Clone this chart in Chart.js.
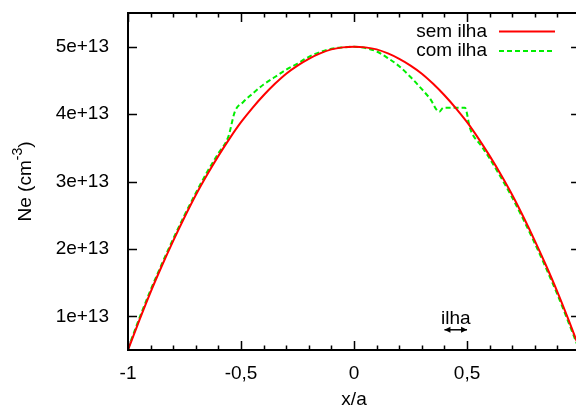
<!DOCTYPE html>
<html>
<head>
<meta charset="utf-8">
<script src="https://cdn.jsdelivr.net/npm/chart.js@4/dist/chart.umd.min.js"></script>
<style>
  html, body { margin: 0; padding: 0; background: #fff; }
  #grafico { display: block; }
</style>
</head>
<body>
<canvas id="grafico" width="576" height="410"></canvas>
<script>
// Valores em unidades de 1e13 cm^-3
const xSemIlha = [-1, -0.95, -0.9, -0.85, -0.8, -0.75, -0.7, -0.65, -0.6, -0.55, -0.5, -0.45, -0.4, -0.35, -0.3, -0.25, -0.2, -0.15, -0.1, -0.05,
                  0, 0.05, 0.1, 0.15, 0.2, 0.25, 0.3, 0.35, 0.4, 0.45, 0.5, 0.55, 0.6, 0.65, 0.7, 0.75, 0.8, 0.85, 0.9, 0.95, 1];
const neSemIlha = [0.50, 0.94, 1.36, 1.75, 2.12, 2.47, 2.80, 3.10, 3.38, 3.64, 3.88, 4.09, 4.28, 4.45, 4.60, 4.72, 4.82, 4.90, 4.96, 4.99,
                   5.00, 4.99, 4.96, 4.90, 4.82, 4.72, 4.60, 4.45, 4.28, 4.09, 3.88, 3.64, 3.38, 3.10, 2.80, 2.47, 2.12, 1.75, 1.36, 0.94, 0.50];

const xComIlha = [-1, -0.95, -0.9, -0.85, -0.8, -0.75, -0.7, -0.65, -0.6, -0.556, -0.527, -0.49, -0.45, -0.4, -0.35, -0.3, -0.25, -0.2, -0.15, -0.1, -0.05,
                  0, 0.05, 0.1, 0.15, 0.2, 0.25, 0.3, 0.336, 0.377, 0.395, 0.491, 0.513, 0.565, 0.6, 0.65, 0.7, 0.75, 0.8, 0.85, 0.9, 0.95, 1];
const neComIlha = [0.52, 0.97, 1.39, 1.78, 2.15, 2.50, 2.83, 3.14, 3.42, 3.665, 4.04, 4.18, 4.30, 4.44, 4.55, 4.66, 4.75, 4.85, 4.92, 4.97, 4.99,
                   5.00, 4.98, 4.93, 4.83, 4.71, 4.55, 4.37, 4.23, 4.035, 4.095, 4.095, 3.79, 3.52, 3.34, 3.06, 2.76, 2.43, 2.08, 1.71, 1.32, 0.90, 0.47];

const xTicks = [-1, -0.5, 0, 0.5];
const xTickLabels = ['-1', '-0,5', '0', '0,5'];
const xMinorStep = 0.1;
const yTicks = [1, 2, 3, 4, 5];
const yTickLabels = ['1e+13', '2e+13', '3e+13', '4e+13', '5e+13'];

// anotação da ilha
const ilhaInicio = 0.4;
const ilhaFim = 0.5;
const ilhaTexto = 'ilha';

const fonte = "'Liberation Sans', Arial, sans-serif";
const tamFonte = 19;

function pontos(xs, ys) {
    return xs.map((x, i) => ({ x: x, y: ys[i] }));
}

// Eixos desenhados como no gnuplot: moldura e marcas para dentro
const moldura = {
    id: 'moldura',
    afterDatasetsDraw(chart) {
        const ctx = chart.ctx;
        const a = chart.chartArea;
        const sx = chart.scales.x;
        const sy = chart.scales.y;
        const direita = sx.getPixelForValue(1);
        ctx.save();
        ctx.strokeStyle = '#000';
        ctx.lineWidth = 2;
        ctx.beginPath();
        ctx.moveTo(direita, a.top);
        ctx.lineTo(a.left, a.top);
        ctx.lineTo(a.left, a.bottom);
        ctx.lineTo(direita, a.bottom);
        ctx.stroke();

        ctx.lineWidth = 1.5;
        ctx.beginPath();
        for (let v = -1; v <= 1.0001; v += xMinorStep) {
            const val = Math.round(v * 10) / 10;
            const px = Math.round(sx.getPixelForValue(val)) + 0.5;
            const major = xTicks.includes(val) || val === 1;
            const len = major ? 9 : 4.5;
            ctx.moveTo(px, a.bottom);
            ctx.lineTo(px, a.bottom - len);
            ctx.moveTo(px, a.top);
            ctx.lineTo(px, a.top + len);
        }
        yTicks.forEach(v => {
            const py = Math.round(sy.getPixelForValue(v)) + 0.5;
            ctx.moveTo(a.left, py);
            ctx.lineTo(a.left + 9, py);
            ctx.moveTo(direita, py);
            ctx.lineTo(direita - 9, py);
        });
        ctx.stroke();

        // legenda
        ctx.font = tamFonte + 'px ' + fonte;
        ctx.textAlign = 'right';
        ctx.textBaseline = 'middle';
        ctx.fillStyle = '#000';
        chart.data.datasets.forEach((ds, i) => {
            const y = 31.5 + i * 19.5;
            ctx.fillText(ds.label, 487, y);
            ctx.strokeStyle = ds.borderColor;
            ctx.lineWidth = ds.borderWidth;
            ctx.setLineDash(ds.borderDash || []);
            ctx.beginPath();
            ctx.moveTo(499, y);
            ctx.lineTo(555, y);
            ctx.stroke();
        });
        ctx.setLineDash([]);

        // anotação "ilha"
        const x1 = sx.getPixelForValue(ilhaInicio);
        const x2 = sx.getPixelForValue(ilhaFim);
        const ya = sy.getPixelForValue(0.8);
        ctx.textAlign = 'center';
        ctx.textBaseline = 'alphabetic';
        ctx.fillText(ilhaTexto, (x1 + x2) / 2, ya - 6);
        ctx.strokeStyle = '#000';
        ctx.lineWidth = 1.5;
        ctx.beginPath();
        ctx.moveTo(x1, ya);
        ctx.lineTo(x2, ya);
        ctx.stroke();
        ctx.fillStyle = '#000';
        [[x1, 1], [x2, -1]].forEach(([px, d]) => {
            ctx.beginPath();
            ctx.moveTo(px, ya);
            ctx.lineTo(px + d * 6, ya - 3);
            ctx.lineTo(px + d * 6, ya + 3);
            ctx.closePath();
            ctx.fill();
        });

        // títulos dos eixos
        ctx.textAlign = 'center';
        ctx.textBaseline = 'middle';
        ctx.font = tamFonte + 'px ' + fonte;
        ctx.fillText('x/a', (a.left + direita) / 2, 400);

        ctx.translate(26, (a.top + a.bottom) / 2);
        ctx.rotate(-Math.PI / 2);
        ctx.textAlign = 'left';
        const t1 = 'Ne (cm';
        const t2 = '-3';
        const t3 = ')';
        const fonteMenor = '14px ' + fonte;
        ctx.font = tamFonte + 'px ' + fonte;
        const w1 = ctx.measureText(t1).width;
        const w3 = ctx.measureText(t3).width;
        ctx.font = fonteMenor;
        const w2 = ctx.measureText(t2).width;
        const x0 = -(w1 + w2 + w3) / 2;
        ctx.font = tamFonte + 'px ' + fonte;
        ctx.fillText(t1, x0, 0);
        ctx.font = fonteMenor;
        ctx.fillText(t2, x0 + w1, -8);
        ctx.font = tamFonte + 'px ' + fonte;
        ctx.fillText(t3, x0 + w1 + w2, 0);
        ctx.restore();
    }
};

const ctx = document.getElementById('grafico').getContext('2d');

new Chart(ctx, {
    type: 'line',
    data: {
        datasets: [{
            label: 'sem ilha',
            data: pontos(xSemIlha, neSemIlha),
            borderColor: '#ff0000',
            borderWidth: 2,
            pointRadius: 0,
            cubicInterpolationMode: 'monotone',
            fill: false
        }, {
            label: 'com ilha',
            data: pontos(xComIlha, neComIlha),
            borderColor: '#00ee00',
            borderWidth: 2,
            borderDash: [5, 3],
            pointRadius: 0,
            cubicInterpolationMode: 'monotone',
            fill: false
        }]
    },
    options: {
        responsive: false,
        animation: false,
        events: [],
        layout: { padding: { top: 13, right: 0, bottom: 0, left: 0 } },
        plugins: {
            legend: { display: false },
            tooltip: { enabled: false }
        },
        scales: {
            x: {
                type: 'linear',
                min: -1,
                max: 0.982,
                grid: { display: false },
                border: { display: false },
                afterBuildTicks: s => { s.ticks = xTicks.map(v => ({ value: v })); },
                afterFit: s => { s.height = 60; s.paddingLeft = 0; s.paddingRight = 0; },
                ticks: {
                    padding: 4,
                    color: '#000',
                    font: { family: fonte, size: tamFonte },
                    maxRotation: 0,
                    callback: (v) => xTickLabels[xTicks.indexOf(v)]
                }
            },
            y: {
                type: 'linear',
                min: 0.5,
                max: 5.5,
                grid: { display: false },
                border: { display: false },
                afterBuildTicks: s => { s.ticks = yTicks.map(v => ({ value: v })); },
                afterFit: s => { s.width = 128; s.paddingTop = 0; s.paddingBottom = 0; },
                ticks: {
                    padding: 11,
                    color: '#000',
                    font: { family: fonte, size: tamFonte },
                    callback: (v) => yTickLabels[yTicks.indexOf(v)]
                }
            }
        }
    },
    plugins: [moldura]
});
</script>
</body>
</html>
